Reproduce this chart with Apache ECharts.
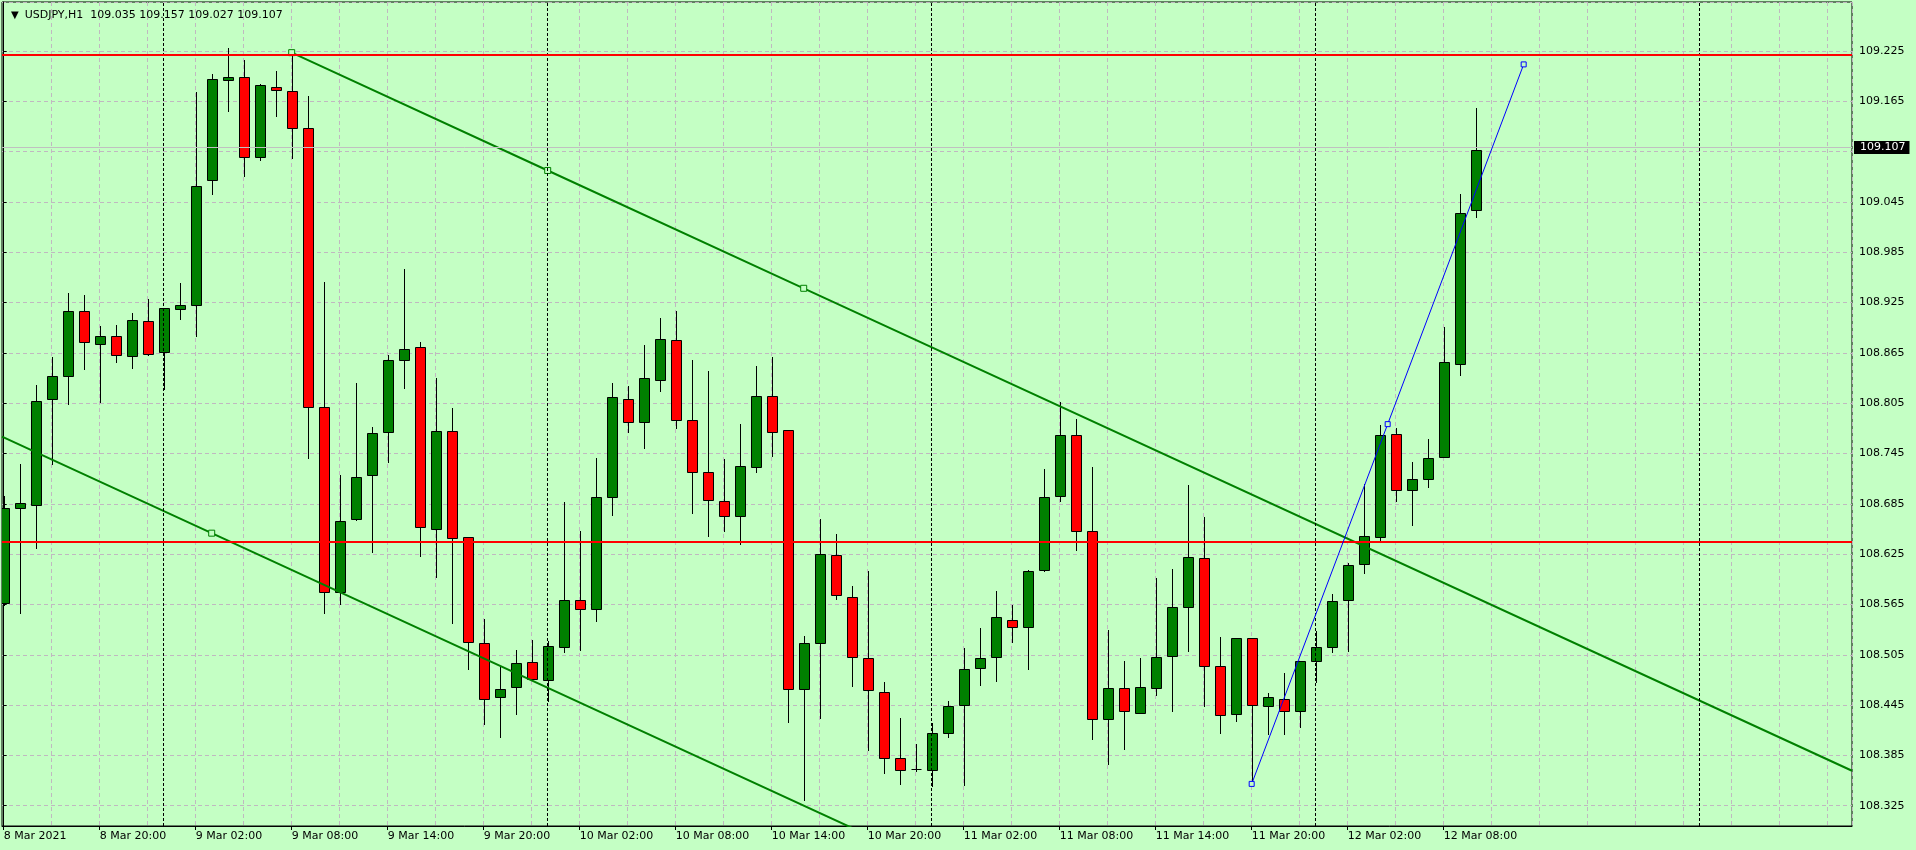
<!DOCTYPE html>
<html>
<head>
<meta charset="utf-8">
<title>USDJPY,H1</title>
<script src="https://cdn.jsdelivr.net/npm/echarts@6/dist/echarts.min.js"></script>
<style>
html, body { margin: 0; padding: 0; background: #c4ffc4; }
#chart { width: 1916px; height: 850px; }
</style>
</head>
<body>
<div id="chart"></div>
<script>
// USDJPY H1 bars, bar 0 = 8 Mar 2021 14:00, one bar per hour
const barOpen = [
    108.567, 108.680, 108.684, 108.810, 108.837, 108.915, 108.876, 108.885, 108.861, 108.903,
    108.866, 108.917, 108.922, 109.071, 109.190, 109.194, 109.098, 109.182, 109.177, 109.133,
    108.800, 108.580, 108.667, 108.719, 108.771, 108.856, 108.872, 108.655, 108.772, 108.645,
    108.519, 108.455, 108.466, 108.496, 108.475, 108.514, 108.570, 108.559, 108.693, 108.810,
    108.782, 108.833, 108.880, 108.785, 108.723, 108.688, 108.670, 108.729, 108.813, 108.773,
    108.464, 108.519, 108.624, 108.574, 108.501, 108.460, 108.382, 108.369, 108.367, 108.412,
    108.445, 108.489, 108.502, 108.547, 108.538, 108.606, 108.694, 108.767, 108.653, 108.428,
    108.465, 108.435, 108.465, 108.504, 108.562, 108.620, 108.492, 108.434, 108.525, 108.444,
    108.452, 108.438, 108.497, 108.514, 108.570, 108.613, 108.646, 108.768, 108.701, 108.714,
    108.741, 108.852, 109.035
];
const barHigh = [
    108.694, 108.733, 108.827, 108.860, 108.936, 108.934, 108.897, 108.898, 108.913, 108.929,
    108.918, 108.948, 109.176, 109.197, 109.229, 109.214, 109.186, 109.201, 109.223, 109.171,
    108.950, 108.719, 108.829, 108.777, 108.862, 108.965, 108.878, 108.835, 108.799, 108.646,
    108.548, 108.491, 108.511, 108.523, 108.522, 108.687, 108.653, 108.740, 108.829, 108.826,
    108.874, 108.906, 108.915, 108.857, 108.843, 108.738, 108.780, 108.849, 108.860, 108.773,
    108.527, 108.667, 108.649, 108.587, 108.605, 108.473, 108.429, 108.399, 108.424, 108.450,
    108.513, 108.537, 108.581, 108.564, 108.606, 108.727, 108.806, 108.786, 108.729, 108.534,
    108.497, 108.501, 108.596, 108.607, 108.708, 108.669, 108.526, 108.525, 108.525, 108.459,
    108.483, 108.497, 108.533, 108.578, 108.615, 108.709, 108.779, 108.775, 108.735, 108.762,
    108.896, 109.054, 109.157
];
const barLow = [
    108.564, 108.555, 108.632, 108.733, 108.804, 108.846, 108.807, 108.854, 108.847, 108.863,
    108.822, 108.905, 108.885, 109.055, 109.153, 109.076, 109.095, 109.148, 109.097, 108.740,
    108.555, 108.566, 108.666, 108.627, 108.735, 108.823, 108.623, 108.598, 108.543, 108.488,
    108.423, 108.407, 108.434, 108.475, 108.450, 108.508, 108.511, 108.545, 108.672, 108.771,
    108.752, 108.819, 108.775, 108.674, 108.647, 108.653, 108.637, 108.723, 108.742, 108.425,
    108.332, 108.429, 108.572, 108.468, 108.391, 108.364, 108.351, 108.366, 108.348, 108.407,
    108.350, 108.469, 108.474, 108.520, 108.488, 108.605, 108.688, 108.630, 108.404, 108.375,
    108.393, 108.435, 108.457, 108.438, 108.510, 108.444, 108.412, 108.426, 108.350, 108.411,
    108.411, 108.419, 108.472, 108.508, 108.510, 108.603, 108.641, 108.688, 108.660, 108.705,
    108.741, 108.839, 109.027
];
const barClose = [
    108.680, 108.686, 108.808, 108.838, 108.915, 108.878, 108.885, 108.862, 108.904, 108.864,
    108.918, 108.922, 109.064, 109.191, 109.194, 109.098, 109.184, 109.178, 109.133, 108.801,
    108.580, 108.665, 108.717, 108.769, 108.856, 108.870, 108.657, 108.772, 108.644, 108.520,
    108.452, 108.464, 108.495, 108.476, 108.515, 108.570, 108.560, 108.693, 108.812, 108.783,
    108.835, 108.881, 108.785, 108.723, 108.689, 108.670, 108.730, 108.813, 108.771, 108.464,
    108.519, 108.625, 108.576, 108.502, 108.463, 108.382, 108.368, 108.369, 108.412, 108.444,
    108.488, 108.501, 108.550, 108.538, 108.605, 108.693, 108.767, 108.652, 108.428, 108.465,
    108.438, 108.466, 108.502, 108.562, 108.621, 108.492, 108.433, 108.525, 108.445, 108.455,
    108.438, 108.497, 108.514, 108.569, 108.612, 108.647, 108.767, 108.701, 108.715, 108.740,
    108.854, 109.032, 109.107
];

// time axis labels (bar index -> text)
const labelBars = [0, 6, 12, 18, 24, 30, 36, 42, 48, 54, 60, 66, 72, 78, 84, 90];
const labelText = ['8 Mar 2021', '8 Mar 20:00', '9 Mar 02:00', '9 Mar 08:00', '9 Mar 14:00', '9 Mar 20:00',
    '10 Mar 02:00', '10 Mar 08:00', '10 Mar 14:00', '10 Mar 20:00', '11 Mar 02:00', '11 Mar 08:00',
    '11 Mar 14:00', '11 Mar 20:00', '12 Mar 02:00', '12 Mar 08:00'];
const daySeparators = [10, 34, 58, 82, 106];
// price labels (109.105 is hidden under the bid box)
const priceTicks = [108.325, 108.385, 108.445, 108.505, 108.565, 108.625, 108.685, 108.745,
    108.805, 108.865, 108.925, 108.985, 109.045, 109.165, 109.225];

// drawn objects
const levelLines = [109.221, 108.636];
const bidPrice = 109.107;
const channelTop = [[18, 109.223], [50, 108.942]];
const channelBottom = [13, 108.650];
const blueTrend = [[78, 108.351], [95, 109.209]];

const X_MIN = -0.106, X_MAX = 115.52;
const Y_MIN = 108.3008, Y_MAX = 109.2834;
const BG = '#c4ffc4';
const FONT = 'DejaVu Sans';
const GRID_COLOR = '#c0b8c0';
const gridDash = { show: true, lineStyle: { color: GRID_COLOR, type: [4, 3], width: 1 } };
const noAxis = { axisLine: { show: false }, axisTick: { show: false }, axisLabel: { show: false } };

const candles = barOpen.map((o, i) => [i, o, barClose[i], barLow[i], barHigh[i]]);

const slope = (channelTop[1][1] - channelTop[0][1]) / (channelTop[1][0] - channelTop[0][0]);
const topAt = x => channelTop[0][1] + slope * (x - channelTop[0][0]);
const bottomAt = x => channelBottom[1] + slope * (x - channelBottom[0]);
const topMid = (channelTop[0][0] + channelTop[1][0]) / 2;
const blueMid = [(blueTrend[0][0] + blueTrend[1][0]) / 2, (blueTrend[0][1] + blueTrend[1][1]) / 2];

function renderCandle(params, api) {
    const i = api.value(0), o = api.value(1), c = api.value(2);
    const pH = api.coord([i, api.value(4)]);
    const pL = api.coord([i, api.value(3)]);
    const pO = api.coord([i, o]);
    const pC = api.coord([i, c]);
    const x = Math.round(pH[0]) + 0.5;
    const top = Math.round(Math.min(pO[1], pC[1])) + 0.5;
    const bot = Math.round(Math.max(pO[1], pC[1])) + 0.5;
    const children = [{
        type: 'line',
        shape: { x1: x, y1: Math.round(pH[1]), x2: x, y2: Math.round(pL[1]) + 1 },
        style: { stroke: '#000', lineWidth: 1 }
    }];
    if (bot - top < 1) {
        children.push({
            type: 'line',
            shape: { x1: x - 5, y1: top, x2: x + 5, y2: top },
            style: { stroke: '#000', lineWidth: 1 }
        });
    } else {
        children.push({
            type: 'rect',
            shape: { x: x - 5, y: top, width: 10, height: bot - top },
            style: { fill: c > o ? '#008000' : '#ff0000', stroke: '#000', lineWidth: 1 }
        });
    }
    return { type: 'group', children: children };
}

const chart = echarts.init(document.getElementById('chart'));
const option = {
    animation: false,
    backgroundColor: BG,
    title: {
        text: '{tri|▼}USDJPY,H1  ' + [barOpen[92], barHigh[92], barLow[92], barClose[92]].map(v => v.toFixed(3)).join(' '),
        left: 6,
        top: 5,
        textStyle: {
            fontFamily: FONT, fontSize: 11, fontWeight: 'normal', color: '#000',
            rich: { tri: { fontSize: 10, fontFamily: FONT, color: '#000', padding: [0, 6, 0, 0] } }
        }
    },
    grid: [
        // main plot
        { left: 2, right: 64, top: 2, bottom: 24, show: true, borderColor: '#000', borderWidth: 1, backgroundColor: 'transparent' },
        // vertical grid lines, every 3 bars starting at bar 0
        { left: 3.7, right: 64, top: 2, bottom: 24 },
        // horizontal grid lines, every 0.06 starting at 108.325
        { left: 2, right: 64, top: 2, bottom: 44.3 }
    ],
    xAxis: [{
        type: 'value',
        gridIndex: 0,
        min: X_MIN, max: X_MAX,
        axisLine: { show: true, onZero: false, lineStyle: { color: '#000' } },
        axisTick: { show: true, length: 4, customValues: labelBars, lineStyle: { color: '#000' } },
        axisLabel: {
            customValues: labelBars,
            formatter: v => labelText[labelBars.indexOf(Math.round(v))] || '',
            align: 'left', margin: 5,
            fontFamily: FONT, fontSize: 11, color: '#000'
        },
        splitLine: { show: false }
    }, Object.assign({
        type: 'value',
        gridIndex: 1,
        min: 0, max: X_MAX, interval: 3,
        splitLine: gridDash
    }, noAxis), Object.assign({
        type: 'value',
        gridIndex: 2,
        min: X_MIN, max: X_MAX,
        splitLine: { show: false }
    }, noAxis)],
    yAxis: [{
        type: 'value',
        gridIndex: 0,
        position: 'right',
        min: Y_MIN, max: Y_MAX,
        axisLine: { show: true, lineStyle: { color: '#000' } },
        axisTick: { show: true, length: 3, customValues: priceTicks, lineStyle: { color: '#000' } },
        axisLabel: {
            customValues: priceTicks,
            formatter: v => v.toFixed(3),
            margin: 7,
            fontFamily: FONT, fontSize: 11, color: '#000'
        },
        splitLine: { show: false }
    }, Object.assign({
        type: 'value',
        gridIndex: 1,
        min: Y_MIN, max: Y_MAX,
        splitLine: { show: false }
    }, noAxis), Object.assign({
        type: 'value',
        gridIndex: 2,
        position: 'right',
        min: 108.325, max: Y_MAX, interval: 0.06,
        splitLine: gridDash
    }, noAxis)],
    series: [
        {
            // period separators and bid line
            type: 'line',
            data: [],
            z: 1,
            markLine: {
                silent: true,
                symbol: 'none',
                animation: false,
                data: daySeparators.map(i => ({
                    xAxis: i,
                    lineStyle: { color: '#000', type: [3, 2], width: 1 },
                    label: { show: false }
                })).concat([{
                    yAxis: bidPrice,
                    lineStyle: { color: '#c0c0c0', type: 'solid', width: 1 },
                    label: {
                        show: true, position: 'end', formatter: bidPrice.toFixed(3),
                        backgroundColor: '#000', color: '#fff', padding: [1, 4, 1, 6], distance: 2,
                        fontFamily: FONT, fontSize: 11
                    }
                }])
            }
        },
        {
            type: 'custom',
            name: 'USDJPY',
            renderItem: renderCandle,
            data: candles,
            encode: { x: 0, y: [1, 2, 3, 4] },
            clip: true,
            z: 2
        },
        {
            // horizontal levels
            type: 'line',
            data: [],
            z: 3,
            markLine: {
                silent: true,
                symbol: 'none',
                animation: false,
                label: { show: false },
                lineStyle: { color: '#ff0000', type: 'solid', width: 2 },
                data: levelLines.map(v => ({ yAxis: v }))
            }
        },
        {
            // channel upper line
            type: 'line',
            z: 4,
            symbol: 'rect',
            symbolSize: 6,
            showSymbol: true,
            clip: true,
            lineStyle: { color: '#008000', width: 2 },
            itemStyle: { color: BG, borderColor: '#008000', borderWidth: 1 },
            data: [
                { value: channelTop[0] },
                { value: [topMid, topAt(topMid)] },
                { value: channelTop[1] },
                { value: [X_MAX, topAt(X_MAX)], symbol: 'none' }
            ]
        },
        {
            // channel lower line
            type: 'line',
            z: 4,
            symbol: 'rect',
            symbolSize: 6,
            showSymbol: true,
            clip: true,
            lineStyle: { color: '#008000', width: 2 },
            itemStyle: { color: BG, borderColor: '#008000', borderWidth: 1 },
            data: [
                { value: [X_MIN, bottomAt(X_MIN)], symbol: 'none' },
                { value: channelBottom },
                { value: [X_MAX, bottomAt(X_MAX)], symbol: 'none' }
            ]
        },
        {
            // blue trend line
            type: 'line',
            z: 5,
            symbol: 'rect',
            symbolSize: 5,
            showSymbol: true,
            clip: true,
            lineStyle: { color: '#0000ff', width: 1 },
            itemStyle: { color: BG, borderColor: '#0000ff', borderWidth: 1 },
            data: [blueTrend[0], blueMid, blueTrend[1]]
        }
    ]
};
chart.setOption(option);
</script>
</body>
</html>
